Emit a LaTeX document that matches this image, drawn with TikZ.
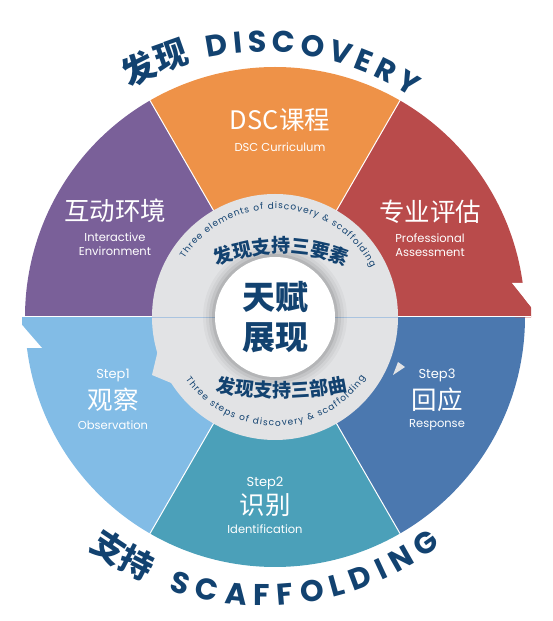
\documentclass[tikz,border=0pt]{standalone}
\usepackage{fontspec}
\setmainfont{Poppins}
\newfontfamily\cjk{Noto Sans CJK SC}
\usetikzlibrary{decorations.text}
\definecolor{purp}{RGB}{122,96,153}
\definecolor{oran}{RGB}{238,146,72}
\definecolor{redd}{RGB}{185,75,75}
\definecolor{lblue}{RGB}{130,188,230}
\definecolor{tealb}{RGB}{75,160,185}
\definecolor{dblue}{RGB}{75,120,175}
\definecolor{navy}{RGB}{18,66,112}
\definecolor{ringg}{RGB}{226,227,229}
\definecolor{rline}{RGB}{170,196,224}
\begin{document}
\begin{tikzpicture}[x=1pt,y=1pt]
        \tikzstyle{title}=[text=white,font=\cjk\fontsize{25.5}{26}\selectfont,inner sep=0pt]
        \tikzstyle{sub}=[text=white,font=\fontsize{11.5}{14}\selectfont,inner sep=0pt,align=center]
        \tikzstyle{stepno}=[text=white,font=\fontsize{13}{13}\selectfont,inner sep=0pt]
        \tikzstyle{core}=[text=navy,font=\cjk\bfseries\fontsize{33}{33}\selectfont,inner sep=0pt]
        \tikzstyle{sep}=[draw=white,line width=1pt]
        \tikzstyle{curved}=[decorate,decoration={text along path,text color=navy,#1}]
        \useasboundingbox (0,0) rectangle (552,621);
        \coordinate (c) at (275,304);
        \coordinate (t) at (263,304);
        \coordinate (a) at (281,198);
        \coordinate (b) at (282,535);

        \fill[purp] (c) -- ++(120:250pt) arc[start angle=120,end angle=180,radius=250pt] -- cycle;
        \fill[oran] (c) -- ++(60:250pt) arc[start angle=60,end angle=120,radius=250pt] -- cycle;
        \fill[redd] (c) -- ++(0:250pt) arc[start angle=0,end angle=60,radius=250pt] -- cycle;
        \fill[lblue] (c) -- ++(180:250pt) arc[start angle=180,end angle=240,radius=250pt] -- cycle;
        \fill[tealb] (c) -- ++(240:250pt) arc[start angle=240,end angle=300,radius=250pt] -- cycle;
        \fill[dblue] (c) -- ++(300:250pt) arc[start angle=300,end angle=360,radius=250pt] -- cycle;

        \fill[redd] (512,338) -- (531,314) -- (531,303.5) -- (515,303.5) -- cycle;
        \fill[white] (512,338) -- (536,338) -- (536,308) -- cycle;
        \fill[lblue] (22,304.5) -- (22,296) -- (42,273) -- (40,304.5) -- cycle;
        \fill[white] (22,296) -- (42,273) -- (10,273) -- (10,296) -- cycle;

        \draw[sep] (c) -- ++(60:252pt);
        \draw[sep] (c) -- ++(120:252pt);
        \draw[sep] (c) -- ++(240:252pt);
        \draw[sep] (c) -- ++(300:252pt);
        \draw[sep] (c) -- ++(0:256pt);
        \draw[sep] (c) -- ++(180:254pt);

        \fill[ringg] (158,271) -- (152,246) -- (176,236) -- cycle;
        \fill[ringg] (398,259) -- (405,254) -- (393,246) -- cycle;
        \fill[ringg] (c) circle[radius=123pt];
        \draw[rline,line width=0.8pt] (c) -- ++(180:123pt);
        \draw[rline,line width=0.8pt] (c) -- ++(0:123pt);
        \foreach \r/\o in {72pt/0.03,69pt/0.04,66pt/0.06,63pt/0.08}
          \fill[black,opacity=\o] (c) circle[radius=\r];
        \fill[white] (c) circle[radius=60pt];

        \node[core] (tf) at (275,324) {天赋};
        \node[core] (zx) at (275,283) {展现};

        \node[title] (dsc) at (280,501) {DSC课程};
        \node[sub] (dsce) at (280,474) {DSC Curriculum};
        \node[title] (zy) at (430,409) {专业评估};
        \node[sub] (zye) at (430,376) {Professional\\Assessment};
        \node[title] (hd) at (115,410) {互动环境};
        \node[sub] (hde) at (115,377) {Interactive\\Environment};

        \node[stepno] (s1) at (113,246) {Step1};
        \node[title] (gc) at (113,221) {观察};
        \node[sub] (gce) at (113,196) {Observation};
        \node[stepno] (s2) at (265,138) {Step2};
        \node[title] (sb) at (265,116) {识别};
        \node[sub] (sbe) at (265,92) {Identification};
        \node[stepno] (s3) at (437,246) {Step3};
        \node[title] (hy) at (437,221) {回应};
        \node[sub] (hye) at (437,196) {Response};

        \path[curved={text align=center,text={|\cjk\bfseries\fontsize{33}{33}\selectfont|发现}}]
          ([shift={(121:265pt)}]t) arc[start angle=121,end angle=105,radius=265pt];
        \path[curved={text align=fit to path,text={|\bfseries\fontsize{30}{30}\selectfont|DISCOVERY}}]
          ([shift={(102:265pt)}]t) arc[start angle=102,end angle=56,radius=265pt];
        \path[curved={text align=center,text={|\cjk\bfseries\fontsize{33}{33}\selectfont|支持}}]
          ([shift={(231:289pt)}]t) arc[start angle=231,end angle=248,radius=289pt];
        \path[curved={text align=fit to path,text={|\bfseries\fontsize{30}{30}\selectfont|SCAFFOLDING}}]
          ([shift={(251:289pt)}]t) arc[start angle=251,end angle=308,radius=289pt];

        \path[curved={text align=fit to path,text={|\fontsize{9}{9}\selectfont|Three elements of discovery {\&} scaffolding}}]
          ([shift={(147:108pt)}]c) arc[start angle=147,end angle=27,radius=108pt];
        \path[curved={text align=fit to path,text={|\fontsize{9}{9}\selectfont|Three steps of discovery {\&} scaffolding}}]
          ([shift={(215:109pt)}]c) arc[start angle=215,end angle=326,radius=109pt];
        \path[curved={text align=center,text={|\cjk\bfseries\fontsize{19}{20}\selectfont|发现支持三要素}}]
          ([shift={(113:170pt)}]a) arc[start angle=113,end angle=67,radius=170pt];
        \path[curved={text align=center,text={|\cjk\bfseries\fontsize{19}{20}\selectfont|发现支持三部曲}}]
          ([shift={(257:312pt)}]b) arc[start angle=257,end angle=283,radius=312pt];
\end{tikzpicture}
\end{document}
